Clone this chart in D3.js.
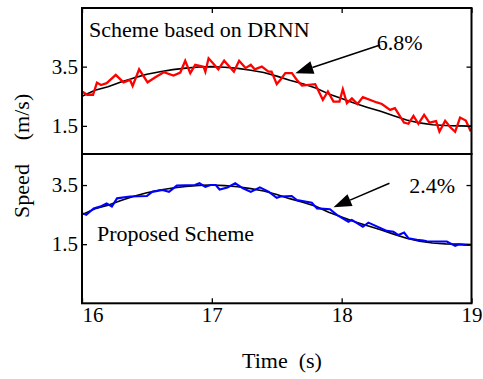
<!DOCTYPE html>
<html>
<head>
<meta charset="utf-8">
<script src="https://cdn.jsdelivr.net/npm/d3@7/dist/d3.min.js"></script>
<style>
  html, body { margin: 0; padding: 0; background: #fff; }
  svg { display: block; }
  text { font-family: "Liberation Serif", "Times New Roman", serif; fill: #000; }
</style>
</head>
<body>
<svg id="chart" width="483" height="379"></svg>
<script>
// Reference speed profile (s, m/s)
const refTime = [16.0,16.1,16.2,16.3,16.4,16.5,16.6,16.7,16.8,16.9,17.0,17.1,17.2,17.3,17.4,17.5,
  17.6,17.7,17.8,17.9,18.0,18.1,18.2,18.3,18.4,18.5,18.6,18.7,18.8,18.9,19.0];
const refSpeed = [2.50,2.70,2.82,2.98,3.12,3.24,3.33,3.40,3.45,3.49,3.50,3.48,3.44,3.38,3.30,3.18,
  3.04,2.92,2.78,2.58,2.42,2.26,2.12,1.99,1.84,1.70,1.60,1.54,1.51,1.50,1.49];

// Tracking result, scheme based on DRNN
const drnnTime = [16.0,16.04,16.085,16.115,16.146,16.19,16.26,16.32,16.37,16.39,16.44,16.505,16.565,
  16.63,16.705,16.757,16.795,16.834,16.872,16.936,16.95,16.975,17.05,17.095,17.17,17.21,17.26,17.30,
  17.33,17.385,17.436,17.46,17.50,17.527,17.566,17.617,17.655,17.694,17.796,17.855,17.894,17.937,
  17.983,18.009,18.04,18.079,18.122,18.163,18.271,18.31,18.373,18.41,18.48,18.514,18.553,18.591,
  18.635,18.676,18.727,18.753,18.797,18.835,18.874,18.912,18.956,18.995];
const drnnSpeed = [2.66,2.55,2.55,2.96,2.88,2.94,3.22,2.97,3.05,2.85,3.41,2.97,3.14,
  3.31,3.20,3.30,3.70,3.28,3.56,3.50,3.33,3.78,3.41,3.70,3.33,3.70,3.45,3.56,
  3.41,3.50,3.33,3.33,2.91,3.05,3.28,3.28,3.05,2.86,2.91,2.38,2.66,2.32,
  2.32,2.74,2.27,2.43,2.24,2.47,2.29,2.24,2.04,2.10,1.61,1.57,1.84,1.57,
  1.87,1.61,1.66,1.31,1.67,1.46,1.30,1.78,1.68,1.31];

// Tracking result, proposed scheme
const propTime = [16.0,16.033,16.09,16.14,16.19,16.23,16.27,16.37,16.5,16.54,16.62,16.67,16.73,16.87,
  16.905,16.95,16.99,17.03,17.06,17.12,17.18,17.24,17.3,17.37,17.44,17.5,17.53,17.615,17.655,17.77,
  17.81,17.91,17.963,18.052,18.078,18.163,18.206,18.348,18.399,18.437,18.481,18.514,18.579,18.63,
  18.656,18.81,18.874,18.9,18.95,18.995];
const propSpeed = [2.55,2.49,2.71,2.77,2.88,2.77,3.05,3.11,3.13,3.27,3.33,3.27,3.48,3.50,
  3.56,3.44,3.50,3.50,3.35,3.42,3.56,3.39,3.27,3.42,3.27,3.07,3.11,3.13,2.99,2.90,
  2.71,2.68,2.49,2.26,2.32,2.09,2.23,1.95,1.92,1.81,1.89,1.70,1.65,1.62,
  1.60,1.59,1.44,1.49,1.47,1.47];

const xTicks = [16, 17, 18, 19];
const yTicks = [1.5, 3.5];

// Error annotations: [label, arrow tail (t, v), arrow tip (t, v), label anchor (t, v)]
const topNote = { label: "6.8%", tail: [18.296, 4.23], tip: [17.643, 3.28], at: [18.27, 4.06] };
const botNote = { label: "2.4%", tail: [18.368, 3.56], tip: [17.937, 2.75], at: [18.52, 3.23] };

const svg = d3.select("#chart");
const left = 82, right = 471.5;
const x = d3.scaleLinear().domain([16, 19]).range([left, right]);
const yTop = d3.scaleLinear().domain([0.55, 5.48]).range([154, 8]);
const yBot = d3.scaleLinear().domain([-0.5, 4.55]).range([303.3, 154]);

const fmt = d => d3.format(".1f")(d);

function panel(y, refColor, seriesT, seriesV, color, width) {
  const line = d3.line().x(d => x(d[0])).y(d => y(d[1]));
  svg.append("path")
    .datum(d3.zip(refTime, refSpeed))
    .attr("d", line).attr("fill", "none")
    .attr("stroke", refColor).attr("stroke-width", 1.6).attr("stroke-linejoin", "round");
  svg.append("path")
    .datum(d3.zip(seriesT, seriesV))
    .attr("d", line).attr("fill", "none")
    .attr("stroke", color).attr("stroke-width", width).attr("stroke-linejoin", "miter");

  // Left / right axes, ticks pointing inward
  const yl = svg.append("g").attr("transform", `translate(${left},0)`)
    .call(d3.axisLeft(y).tickValues(yTicks).tickFormat(fmt).tickSize(-5).tickPadding(4));
  const yr = svg.append("g").attr("transform", `translate(${right},0)`)
    .call(d3.axisRight(y).tickValues(yTicks).tickFormat("").tickSize(-5));
  [yl, yr].forEach(g => {
    g.select(".domain").remove();
    g.selectAll("line").attr("stroke", "#000").attr("stroke-width", 1.3);
    g.selectAll("text").style("font-size", "21px").style("font-family", "Liberation Serif");
  });

  const [y0, y1] = y.range();
  svg.append("rect")
    .attr("x", left).attr("y", y1).attr("width", right - left).attr("height", y0 - y1)
    .attr("fill", "none").attr("stroke", "#000").attr("stroke-width", 2);
}

panel(yTop, "#000", drnnTime, drnnSpeed, "#ff0000", 2.3);
panel(yBot, "#000", propTime, propSpeed, "#0000ff", 2.1);

// Time axis (bottom) and its mirror on the top edge
const xb = svg.append("g").attr("transform", `translate(0,${yBot.range()[0]})`)
  .call(d3.axisBottom(x).tickValues(xTicks).tickFormat(d3.format("d")).tickSize(-5).tickPadding(4));
const xt = svg.append("g").attr("transform", `translate(0,${yTop.range()[1]})`)
  .call(d3.axisTop(x).tickValues(xTicks).tickFormat("").tickSize(-5));
[xb, xt].forEach(g => {
  g.select(".domain").remove();
  g.selectAll("line").attr("stroke", "#000").attr("stroke-width", 1.3);
  g.selectAll("text").style("font-size", "21px").style("font-family", "Liberation Serif");
});
xb.selectAll(".tick text").filter(d => d === 16).attr("text-anchor", "start");

// Annotations
function note(n, y) {
  const [tx, ty] = [x(n.tail[0]), y(n.tail[1])];
  const [px, py] = [x(n.tip[0]), y(n.tip[1])];
  const ang = Math.atan2(py - ty, px - tx);
  const headLen = 18, headHalf = 6.5;
  const bx = px - headLen * Math.cos(ang), by = py - headLen * Math.sin(ang);
  svg.append("line")
    .attr("x1", tx).attr("y1", ty).attr("x2", bx).attr("y2", by)
    .attr("stroke", "#000").attr("stroke-width", 1.5);
  const nx = -Math.sin(ang), ny = Math.cos(ang);
  svg.append("path")
    .attr("d", `M${px},${py}L${bx + nx * headHalf},${by + ny * headHalf}L${bx - nx * headHalf},${by - ny * headHalf}Z`)
    .attr("fill", "#000");
  svg.append("text")
    .attr("x", x(n.at[0])).attr("y", y(n.at[1]))
    .style("font-size", "22px").text(n.label);
}
note(topNote, yTop);
note(botNote, yBot);

svg.append("text").attr("x", 89).attr("y", 36.5)
  .style("font-size", "22px").text("Scheme based on DRNN");
svg.append("text").attr("x", 97).attr("y", 240.7)
  .style("font-size", "22px").text("Proposed Scheme");

// Axis titles
svg.append("text").attr("transform", "translate(29,191) rotate(-90)")
  .attr("text-anchor", "middle").style("font-size", "22px").text("Speed");
svg.append("text").attr("transform", "translate(29,117) rotate(-90)")
  .attr("text-anchor", "middle").style("font-size", "22px").text("(m/s)");
svg.append("text").attr("x", 282).attr("y", 368)
  .attr("text-anchor", "middle").style("font-size", "22px")
  .attr("xml:space", "preserve").text("Time\u00a0\u00a0(s)");
</script>
</body>
</html>
